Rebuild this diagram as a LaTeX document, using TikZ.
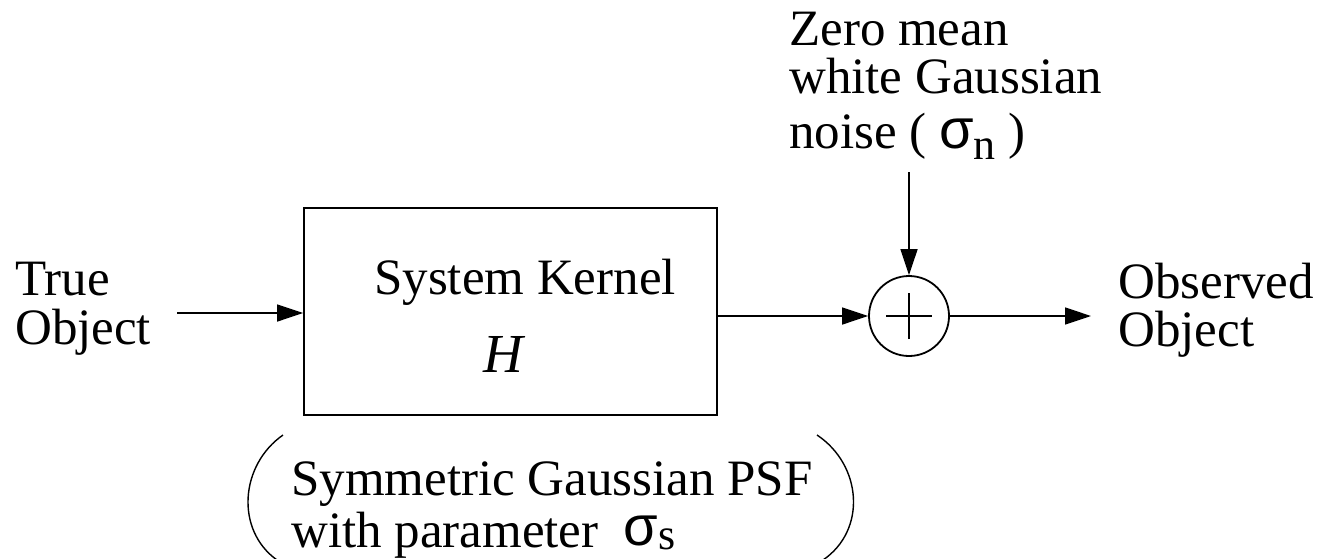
\documentclass[tikz,border=0pt]{standalone}
\usepackage{fontspec}
\setmainfont{Liberation Serif}
\newfontfamily\symfont{Liberation Sans}
\usetikzlibrary{arrows.meta}
\newcommand{\sgm}[3]{\raisebox{#2}{\fontsize{56}{56}\symfont σ}\raisebox{#3}{\fontsize{44}{44}\selectfont #1}}
\tikzset{
  line/.style={line width=1.8pt},
  arr/.style={line width=1.6pt,-{Triangle[length=26pt,width=17pt]}},
  txt/.style={inner sep=0pt,anchor=base west,font=\fontsize{51}{48}\selectfont},
}
\begin{document}
\begin{tikzpicture}[x=1pt,y=-1pt]
\useasboundingbox (0,0) rectangle (1321,558);
% box
\node[line,draw,minimum width=413pt,minimum height=207pt,inner sep=0pt] (box) at (510.5,311.5) {};
\node[txt,anchor=base] (sk) at (525,294) {System Kernel};
\node[txt,anchor=base] (h) at (505,372) {\fontsize{55}{55}\selectfont\textit{H}};
% adder
\node[line,draw,circle,minimum size=80pt,inner sep=0pt] (sum) at (909,316) {};
\draw[line width=1.6pt] ([xshift=-23pt]sum.center) -- ([xshift=23pt]sum.center);
\draw[line width=1.6pt] ([yshift=-23pt]sum.center) -- ([yshift=23pt]sum.center);
% texts
\node[txt] (in) at (15,295) {\begin{tabular}[t]{@{}l@{}}True\\Object\end{tabular}};
\node[txt] (out) at (1118,298) {\begin{tabular}[t]{@{}l@{}}Observed\\[-1pt]Object\end{tabular}};
\node[txt] (noise) at (789,45) {\begin{tabular}[t]{@{}l@{}}Zero mean\\[-1pt]white Gaussian\\[5pt]noise ( \sgm{n}{0pt}{-11pt} )\end{tabular}};
\node[txt] (psf) at (291,495) {\begin{tabular}[t]{@{}l@{}}Symmetric Gaussian PSF\\[3pt]with parameter \ \sgm{s}{2pt}{-2pt}\end{tabular}};
% connectors
\coordinate (a0) at (177,313);
\coordinate (n0) at (909,172);
\coordinate (o1) at (1091,316);
\draw[arr] (a0) -- (a0 -| box.west);
\draw[arr] (box.east |- sum.west) -- (sum.west);
\draw[arr] (sum.east) -- (o1);
\draw[arr] (n0) -- (sum.north);
% parentheses
\draw[line width=1.4pt] (283,435) .. controls (240,465) and (235,530) .. (277,560);
\draw[line width=1.4pt] (817,435) .. controls (862,465) and (867,530) .. (823,560);
\end{tikzpicture}
\end{document}
